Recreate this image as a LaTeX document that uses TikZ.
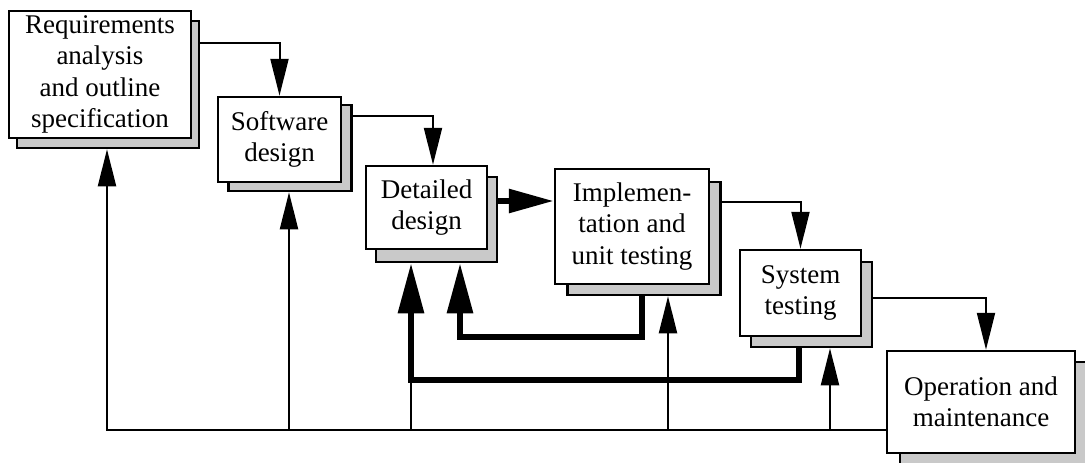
\documentclass[tikz,border=0pt]{standalone}
\usepackage{fontspec}
\setmainfont{Liberation Serif}
\usetikzlibrary{arrows.meta}
\begin{document}
\begin{tikzpicture}[x=1pt,y=-1pt,
  phase/.style={draw=black, line width=2.5pt, fill=white, inner sep=0pt,
    align=center, font=\fontsize{27}{31.5}\selectfont},
  backing/.style={draw=black, line width=2.5pt, fill=gray!42, inner sep=0pt},
  flow/.style={draw=black, line width=2pt, -{Triangle[length=37pt,width=18pt]}},
  flowline/.style={draw=black, line width=2pt},
  heavy/.style={draw=black, line width=6pt, -{Triangle[length=50pt,width=25pt]}},
  heavyright/.style={draw=black, line width=6pt, -{Triangle[length=45pt,width=23pt]}}]
\useasboundingbox (0,0) rectangle (1085,463);

% stacked backing sheets
\node[backing, minimum width=182pt, minimum height=127pt] (s1) at (108,84.5) {};
\node[backing, minimum width=123pt, minimum height=86pt] (s2) at (290,148) {};
\node[backing, minimum width=121pt, minimum height=85pt] (s3) at (436.5,219.5) {};
\node[backing, minimum width=153pt, minimum height=113pt] (s4) at (644,238.5) {};
\node[backing, minimum width=121pt, minimum height=85pt] (s5) at (811.5,304.5) {};
\node[backing, minimum width=188pt, minimum height=102pt] (s6) at (994,413) {};

% phase boxes
\node[phase, minimum width=182pt, minimum height=127pt] (f1) at (100,74.5)
  {\raisebox{-2pt}{\parbox{170pt}{\centering Requirements\\analysis\\and outline\\specification}}};
\node[phase, minimum width=123pt, minimum height=85pt] (f2) at (279.5,139.5)
  {Software\\design};
\node[phase, minimum width=121pt, minimum height=83pt] (f3) at (426.5,207.5)
  {Detailed\\design};
\node[phase, minimum width=154pt, minimum height=115pt] (f4) at (632,226.5)
  {Implemen-\\tation and\\unit testing};
\node[phase, minimum width=121pt, minimum height=86pt] (f5) at (800.5,293)
  {System\\testing};
\node[phase, minimum width=188pt, minimum height=102pt] (f6) at (981,402)
  {Operation and\\maintenance};

% routing points
\coordinate (k1) at (279.5,43);
\coordinate (k2) at (433,116);
\coordinate (k3) at (0,201);
\coordinate (k4) at (800.5,202);
\coordinate (k5) at (986,298);
\coordinate (b1) at (107,430);
\coordinate (b2) at (289,430);
\coordinate (b3) at (411,430);
\coordinate (b4) at (668,430);
\coordinate (b5) at (830,430);
\coordinate (jA) at (411,380);
\coordinate (tA) at (799,380);
\coordinate (jB) at (460,337);
\coordinate (tB) at (642,337);

% forward flow
\draw[flow] (s1.east |- k1) -- (k1) -- (f2.north);
\draw[flow] (s2.east |- k2) -- (k2) -- (k2 |- f3.north);
\draw[heavyright] (s3.east |- k3) -- (f4.west |- k3);
\draw[flow] (s4.east |- k4) -- (k4) -- (f5.north);
\draw[flow] (s5.east |- k5) -- (k5) -- (k5 |- f6.north);

% feedback from operation and maintenance
\draw[flow] (f6.west |- b1) -- (b1) -- (b1 |- s1.south);
\draw[flow] (b2) -- (b2 |- s2.south);
\draw[flowline] (b3) -- (jA);
\draw[flow] (b4) -- (b4 |- s4.south);
\draw[flow] (b5) -- (b5 |- s5.south);

% heavy feedback to detailed design
\draw[heavy] (tA |- s5.south) -- (tA) -- (jA) -- (jA |- s3.south);
\draw[heavy] (tB |- s4.south) -- (tB) -- (jB) -- (jB |- s3.south);
\end{tikzpicture}
\end{document}
